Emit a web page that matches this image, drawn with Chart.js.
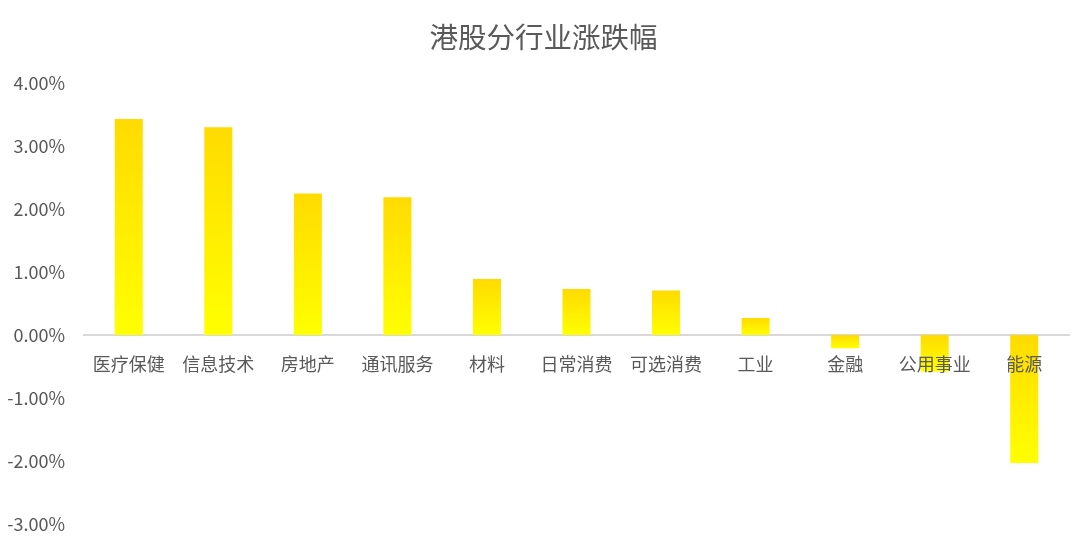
<!DOCTYPE html>
<html>
<head>
<meta charset="utf-8">
<script src="https://cdn.jsdelivr.net/npm/chart.js@4/dist/chart.umd.min.js"></script>
<style>
  html, body { margin: 0; padding: 0; background: #fff; }
  #wrap { width: 1087px; height: 538px; }
</style>
</head>
<body>
<div id="wrap"><canvas id="chart"></canvas></div>
<script>
// 港股分行业涨跌幅（单位：%）
const categories = ['医疗保健', '信息技术', '房地产', '通讯服务', '材料', '日常消费', '可选消费', '工业', '金融', '公用事业', '能源'];
const changes = [3.43, 3.30, 2.25, 2.19, 0.89, 0.73, 0.71, 0.27, -0.21, -0.58, -2.03];
const yTicks = [-3, -2, -1, 0, 1, 2, 3, 4];

const FONT = '"Noto Sans CJK SC", "Noto Sans", sans-serif';
const TEXT_COLOR = '#595959';

// 每根柱子从顶端金色渐变到底端亮黄
function barGradient(ctx) {
    const chart = ctx.chart;
    if (!chart.chartArea || ctx.type !== 'data') return '#FFF000';
    const y = chart.scales.y;
    const p0 = y.getPixelForValue(0);
    const p1 = y.getPixelForValue(ctx.raw);
    const g = chart.ctx.createLinearGradient(0, Math.min(p0, p1), 0, Math.max(p0, p1));
    g.addColorStop(0, '#FFDB00');
    g.addColorStop(1, '#FFFF00');
    return g;
}

new Chart(document.getElementById('chart'), {
    type: 'bar',
    data: {
        labels: categories,
        datasets: [{
            label: '涨跌幅',
            data: changes,
            backgroundColor: barGradient,
            borderWidth: 0,
            barPercentage: 0.313,
            categoryPercentage: 1
        }]
    },
    options: {
        responsive: true,
        maintainAspectRatio: false,
        animation: false,
        layout: {
            padding: { left: 0, right: 0, top: 0, bottom: 14 }
        },
        plugins: {
            legend: { display: false },
            tooltip: { enabled: false },
            title: {
                display: true,
                text: '港股分行业涨跌幅',
                color: TEXT_COLOR,
                font: { family: FONT, size: 28.5, weight: 'normal' },
                padding: { top: 20, bottom: 29 }
            }
        },
        scales: {
            x: {
                type: 'category',
                position: { y: 0 },
                afterFit: scale => { scale.height = 0; }, // 轴在0线上，不占底部空间
                grid: { display: false, drawTicks: false },
                border: { display: true, color: '#d9d9d9', width: 2 },
                ticks: {
                    z: 1, // 标签画在柱子上面
                    color: TEXT_COLOR,
                    font: { family: FONT, size: 18 },
                    padding: 18,
                    maxRotation: 0,
                    autoSkip: false
                }
            },
            y: {
                min: yTicks[0],
                max: yTicks[yTicks.length - 1],
                afterFit: scale => {
                    scale.width = 84;
                    scale.paddingTop = 0;
                    scale.paddingBottom = 0;
                },
                afterBuildTicks: scale => { scale.ticks = yTicks.map(v => ({ value: v })); },
                grid: { display: false, drawTicks: false },
                border: { display: false },
                ticks: {
                    color: TEXT_COLOR,
                    font: { family: FONT, size: 18 },
                    padding: 19,
                    callback: v => v.toFixed(2) + '%'
                }
            },
            // 右侧留白，使标题居中于整张图
            yRight: {
                position: 'right',
                min: yTicks[0],
                max: yTicks[yTicks.length - 1],
                afterFit: scale => {
                    scale.width = 18;
                    scale.paddingTop = 0;
                    scale.paddingBottom = 0;
                },
                grid: { display: false, drawTicks: false },
                border: { display: false },
                ticks: { display: false }
            }
        }
    }
});
</script>
</body>
</html>
